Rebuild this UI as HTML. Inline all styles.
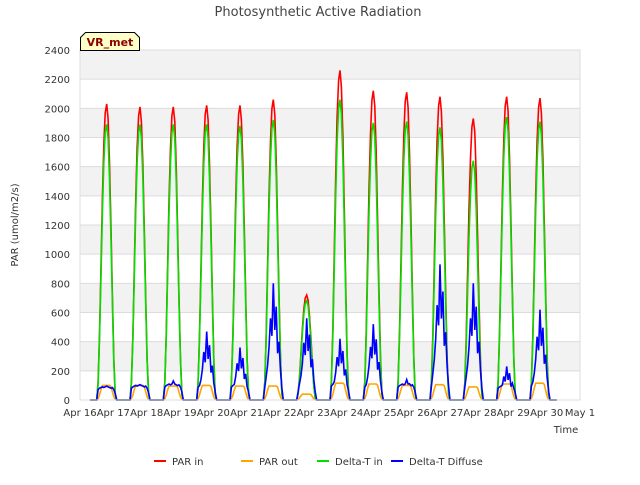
<!DOCTYPE html>
<html><head><meta charset="utf-8"><style>
body{margin:0;background:#fff;font-family:"Liberation Sans","DejaVu Sans",sans-serif}
svg text{font-family:"DejaVu Sans","Liberation Sans",sans-serif}
</style></head><body>
<svg id="c" width="640" height="480" xmlns="http://www.w3.org/2000/svg">
<text x="318" y="16" text-anchor="middle" font-size="13" fill="#444">Photosynthetic Active Radiation</text>
<g id="grid"></g>
<g id="series"></g>
<g id="axes"></g>
<text transform="translate(18,225) rotate(-90)" text-anchor="middle" font-size="10" fill="#333">PAR (umol/m2/s)</text>
<text x="566" y="433" text-anchor="middle" font-size="10" fill="#333">Time</text>
<g>
<path d="M80.5,50.5 L80.5,37.5 L85.5,32.5 L134.5,32.5 L139.5,37.5 L139.5,50.5 Z" fill="#ffffc8" stroke="#000"/>
<text x="110" y="46" text-anchor="middle" font-size="11" font-weight="bold" fill="#8b0000">VR_met</text>
</g>
<g id="legend"></g>
</svg>
<script>
const xTickLabels=["Apr 16","Apr 17","Apr 18","Apr 19","Apr 20","Apr 21","Apr 22","Apr 23","Apr 24","Apr 25","Apr 26","Apr 27","Apr 28","Apr 29","Apr 30","May 1"];
const yTicks=[0,200,400,600,800,1000,1200,1400,1600,1800,2000,2200,2400];
const parInPeaks=[2030,2010,2010,2020,2020,2060,720,2260,2120,2110,2080,1930,2080,2070];
const deltaInPeaks=[1890,1890,1890,1890,1880,1920,680,2060,1900,1910,1870,1640,1940,1910];
const parOutPeaks=[100,100,95,100,95,95,40,115,110,100,105,90,110,115];
const diffuseBase=[90,100,110,110,110,110,60,120,110,110,110,110,100,120];
const diffusePeaks=[95,105,130,470,360,800,560,420,520,140,930,800,230,620];
const profile=[0,0.06,0.22,0.45,0.68,0.86,0.97,1,0.95,0.8,0.58,0.35,0.14,0.02,0];
const plateau=[0,0.8,0.9,0.95,1,0.95,1,0.95,1,0.95,0.9,0.95,0.8,0.5,0];
const diffShape=[0,0.1,0.2,0.3,0.45,0.7,0.55,1,0.6,0.8,0.4,0.5,0.25,0.1,0];
const X0=80,X1=580,Y0=400,Y1=50;
const xs=d=>X0+(X1-X0)*d/15;
const ys=v=>Y0-(Y0-Y1)*v/2400;
const NS="http://www.w3.org/2000/svg";
function mk(t,a,p){const e=document.createElementNS(NS,t);for(const k in a)e.setAttribute(k,a[k]);p.appendChild(e);return e;}
const grid=document.getElementById('grid'),axes=document.getElementById('axes'),ser=document.getElementById('series'),leg=document.getElementById('legend');
mk('rect',{x:X0,y:Y1,width:X1-X0,height:Y0-Y1,fill:'#fff'},grid);
for(let i=0;i<yTicks.length-1;i++){if(i%2==1){const r=mk('rect',{x:X0,y:ys(yTicks[i+1]),width:X1-X0,height:ys(yTicks[i])-ys(yTicks[i+1]),fill:'#f2f2f2'},grid);}}
yTicks.forEach(v=>{const l=mk('line',{x1:X0,x2:X1,y1:ys(v),y2:ys(v),stroke:'#dcdcdc'},grid);
const t=mk('text',{x:X0-10,y:ys(v)+4,'text-anchor':'end','font-size':10,fill:'#333'},axes);t.textContent=v;});
xTickLabels.forEach((s,i)=>{const t=mk('text',{x:xs(i),y:Y0+16,'text-anchor':'middle','font-size':10,fill:'#333'},axes);t.textContent=s;});
mk('rect',{x:X0,y:Y1,width:X1-X0,height:Y0-Y1,fill:'none',stroke:'#ddd'},axes);
function pts(fn,n){let p=[[xs(0.3),ys(0)]];for(let d=0;d<14;d++){for(let k=0;k<n;k++){const t=d+0.5+0.6*k/(n-1);p.push([xs(t),ys(fn(d,k))]);}}p.push([xs(14.3),ys(0)]);return p.map(q=>q[0].toFixed(1)+','+q[1].toFixed(1)).join(' ');}
const n=profile.length;
const series=[["PAR in",(d,k)=>parInPeaks[d]*profile[k],"#ff0000"],["PAR out",(d,k)=>parOutPeaks[d]*Math.min(1,profile[k]*1.6),"#ffa500"],["Delta-T in",(d,k)=>deltaInPeaks[d]*profile[k],"#00e000"],["Delta-T Diffuse",(d,k)=>Math.max(diffuseBase[d]*plateau[k],diffusePeaks[d]*diffShape[k]),"#0000ff"]];
series.forEach(s=>{const pl=mk('polyline',{points:pts(s[1],n),fill:'none',stroke:s[2],'stroke-width':1.6},ser);});
let lx=[150,237,313,387];
series.forEach((s,i)=>{const g=mk('g',{},leg);
mk('line',{x1:lx[i]+4,x2:lx[i]+16,y1:461,y2:461,stroke:s[2],'stroke-width':2},g);
const t=mk('text',{x:lx[i]+22,y:465,'font-size':10,fill:'#333'},g);t.textContent=s[0];});
</script>
</body></html>
